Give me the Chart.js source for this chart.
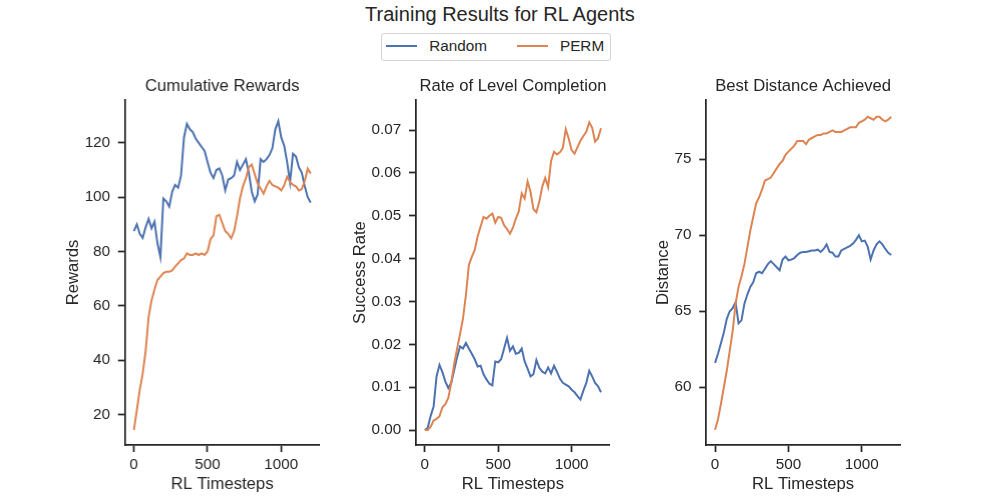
<!DOCTYPE html>
<html><head><meta charset="utf-8">
<script src="https://cdn.jsdelivr.net/npm/chart.js@4.4.1/dist/chart.umd.min.js"></script>
<style>
html,body{margin:0;padding:0;background:#fff;}
#page{position:relative;width:1000px;height:500px;overflow:hidden;font-family:'Liberation Sans',Arial,sans-serif;color:#262626;background:#fff;}
.box{position:absolute;}
.txt{position:absolute;line-height:1;white-space:nowrap;}
</style></head><body>
<div id="page">
  <div class="txt" id="suptitle" style="left:0;width:1000px;top:3.8px;font-size:20px;text-align:center;"></div>
  <div id="legend" style="position:absolute;left:380.5px;top:33px;width:230px;height:27.5px;border:1px solid #d4d4d4;border-radius:3px;box-sizing:border-box;"></div>
  <div class="box" id="c0"><canvas id="cv0"></canvas></div>
  <div class="box" id="c1"><canvas id="cv1"></canvas></div>
  <div class="box" id="c2"><canvas id="cv2"></canvas></div>
</div>
<script>
// ---------------- DATA ----------------
const figureTitle = 'Training Results for RL Agents';
const seriesNames = ['Random', 'PERM'];
const panelTitles = ['Cumulative Rewards', 'Rate of Level Completion', 'Best Distance Achieved'];
const yLabels = ['Rewards', 'Success Rate', 'Distance'];
const xLabel = 'RL Timesteps';

const timesteps = [0,20,40,60,80,100,120,140,160,180,200,220,240,260,280,300,320,340,360,380,
  400,420,440,460,480,500,520,540,560,580,600,620,640,660,680,700,720,740,760,780,
  800,820,840,860,880,900,920,940,960,980,1000,1020,1040,1060,1080,1100,1120,1140,1160,1180,1200];

const rewardsRandom = [87.5,90,86.5,85,89,92,88.5,91,83,78,99.5,98.5,96.5,102,104.5,103.5,108,122,127,125,
  124,121.5,120,118.5,117,113,109,107,110,110.6,108,102.5,106.5,107,108,113,110,112,114,109,
  102,98.5,101,114,113,114,115.5,118,125,128,122,119,113,105.5,116,115,111,109,104,100,98];
const rewardsPerm = [14.3,21.5,29,35,43.5,56,62,66,69.5,70.7,72,72.5,72.5,73,74.4,75.6,76.8,77.4,79.3,78.7,
  78.7,79.3,78.7,79.3,78.7,80,84.5,85.9,93,93.5,90.5,87.5,86.5,84.8,87.5,93,99.5,104,107,111,
  112,108.5,105,103.2,101.3,104,106,104.5,104,103.5,102.5,104.4,107.5,105.6,104.5,104,102.5,103,106,110.5,108.7];

const rateRandom = [0,0.0005,0.0033,0.0055,0.0125,0.0152,0.0135,0.0113,0.0098,0.011,0.014,0.017,0.0195,0.019,0.0203,0.019,0.0178,0.0165,0.0148,0.015,
  0.013,0.0118,0.0108,0.0104,0.016,0.0158,0.0165,0.019,0.0215,0.0185,0.0195,0.0178,0.018,0.019,0.016,0.0143,0.0125,0.013,0.0163,0.0145,
  0.0136,0.0132,0.0146,0.0132,0.015,0.0136,0.012,0.011,0.0106,0.0102,0.0094,0.0088,0.0079,0.0071,0.0092,0.011,0.0138,0.0125,0.011,0.0102,0.0088];
const ratePerm = [0,0,0.0008,0.0022,0.0026,0.0032,0.0053,0.006,0.0075,0.011,0.0154,0.019,0.0224,0.026,0.0315,0.0385,0.0404,0.042,0.0452,0.0475,
  0.0497,0.0493,0.05,0.0505,0.0484,0.0497,0.0495,0.0478,0.0469,0.0458,0.0472,0.0493,0.051,0.0552,0.054,0.058,0.0556,0.0515,0.0508,0.0533,
  0.0568,0.0588,0.0567,0.0628,0.0649,0.0643,0.0648,0.0658,0.0702,0.068,0.0653,0.0645,0.066,0.0675,0.0686,0.0696,0.0718,0.0705,0.0673,0.0681,0.0704];

const distRandom = [61.6,62.2,62.9,63.6,64.5,65,65.2,65.6,64.2,64.4,65.5,66.1,66.6,66.9,67.5,67.6,67.5,67.8,68.1,68.3,
  68.1,67.9,67.7,68.4,68.6,68.35,68.4,68.5,68.7,68.85,68.9,68.9,68.95,69,69,69.05,68.9,69.1,69.4,68.9,
  68.85,68.6,68.6,69,69.1,69.2,69.3,69.45,69.7,70,69.6,69.65,69.25,68.4,69,69.4,69.6,69.4,69.1,68.85,68.7];
const distPerm = [57.2,57.9,58.9,60,61.1,62.4,63.7,65.5,66.6,67.3,68.1,69.2,70.3,71.2,72.1,72.5,73,73.6,73.7,73.8,
  74.1,74.4,74.7,74.9,75.3,75.5,75.7,75.9,76.2,76.2,76.2,76,76.3,76.4,76.5,76.6,76.6,76.7,76.7,76.8,
  76.9,76.8,76.8,76.8,76.9,77,77.1,77.1,77.1,77.4,77.5,77.6,77.8,77.7,77.6,77.8,77.8,77.6,77.5,77.6,77.8];

const stepTicks = [0, 500, 1000];
const rewardTicks = [20, 40, 60, 80, 100, 120];
const rateTicks = [0, 0.01, 0.02, 0.03, 0.04, 0.05, 0.06, 0.07];
const distTicks = [60, 65, 70, 75];

// ---------------- STYLE / LAYOUT ----------------
const colors = ['#4c72b0', '#dd8452'];
const ink = '#262626';
const FONT = "'Liberation Sans', Arial, sans-serif";
const AREA_TOP = 100, AREA_H = 345, AREA_W = 193.75;
const TITLE_H = 30, X_AXIS_H = 55, RIGHT_PAD = 6;
const X_RANGE = [-60, 1260];

const panels = [
  {left: 125,     yw: 61.8,  yr: [8.7, 135.8],      yt: rewardTicks, fmt: v => String(v),    d: [rewardsRandom, rewardsPerm]},
  {left: 415.625, yw: 66.0,  yr: [-0.0035, 0.0770], yt: rateTicks,   fmt: v => v.toFixed(2), d: [rateRandom, ratePerm]},
  {left: 706.25,  yw: 53.25, yr: [56.2, 78.9],      yt: distTicks,   fmt: v => String(v),    d: [distRandom, distPerm]}
];

Chart.defaults.font.family = FONT;
Chart.defaults.color = ink;

document.getElementById('suptitle').textContent = figureTitle;

// legend (HTML)
const legend = document.getElementById('legend');
const legendPos = [{line: 386 - 380.5, text: 429.3 - 380.5}, {line: 516.7 - 380.5, text: 560 - 380.5}];
seriesNames.forEach((name, i) => {
  const ln = document.createElement('div');
  ln.style.cssText = `position:absolute;left:${legendPos[i].line - 1}px;top:11.2px;width:31px;height:2.1px;background:${colors[i]};`;
  legend.appendChild(ln);
  const tx = document.createElement('div');
  tx.className = 'txt';
  tx.style.cssText += `left:${legendPos[i].text - 1}px;top:4.1px;font-size:15.28px;`;
  tx.textContent = name;
  legend.appendChild(tx);
});

function pts(vals) { return vals.map((v, i) => ({x: timesteps[i], y: v})); }

panels.forEach((p, k) => {
  const box = document.getElementById('c' + k);
  const w = p.yw + AREA_W + RIGHT_PAD;
  const h = TITLE_H + AREA_H + X_AXIS_H;
  box.style.left = (p.left - p.yw) + 'px';
  box.style.top = (AREA_TOP - TITLE_H) + 'px';
  box.style.width = w + 'px';
  box.style.height = h + 'px';

  const axisCommon = {
    grid: {display: true, drawOnChartArea: false, drawTicks: true, tickLength: 7, tickWidth: 1.74, tickColor: ink},
    border: {display: true, color: ink, width: 1.74}
  };

  new Chart(document.getElementById('cv' + k), {
    type: 'line',
    data: {
      datasets: seriesNames.map((name, i) => ({
        label: name,
        data: pts(p.d[i]),
        borderColor: colors[i],
        backgroundColor: colors[i],
        borderWidth: 2,
        pointRadius: 0,
        tension: 0,
        fill: false,
        order: i === 0 ? 1 : 0
      }))
    },
    options: {
      responsive: true,
      maintainAspectRatio: false,
      animation: false,
      events: [],
      layout: {padding: {left: 0, right: RIGHT_PAD, top: 0, bottom: 0}},
      plugins: {
        legend: {display: false},
        tooltip: {enabled: false},
        title: {
          display: true, text: panelTitles[k], fullSize: false, color: ink,
          font: {size: 16.67, weight: 'normal', family: FONT},
          padding: {top: 6, bottom: 4}
        }
      },
      scales: {
        x: Object.assign({}, axisCommon, {
          type: 'linear', min: X_RANGE[0], max: X_RANGE[1],
          afterBuildTicks: s => { s.ticks = stepTicks.map(v => ({value: v})); },
          afterFit: s => { s.height = X_AXIS_H; },
          ticks: {padding: 4, color: ink, font: {size: 15.28}, maxRotation: 0, autoSkip: false, callback: v => String(v)},
          title: {display: true, text: xLabel, color: ink, font: {size: 16.67}, padding: {top: 0, bottom: 6}}
        }),
        y: Object.assign({}, axisCommon, {
          type: 'linear', min: p.yr[0], max: p.yr[1],
          afterBuildTicks: s => { s.ticks = p.yt.map(v => ({value: v})); },
          afterFit: s => { s.width = p.yw; },
          ticks: {padding: 7.7, color: ink, font: {size: 15.28}, autoSkip: false, callback: v => p.fmt(v)},
          title: {display: true, text: yLabels[k], color: ink, font: {size: 16.67}, padding: {top: 0, bottom: 0}}
        })
      }
    }
  });
});
</script>
</body></html>
